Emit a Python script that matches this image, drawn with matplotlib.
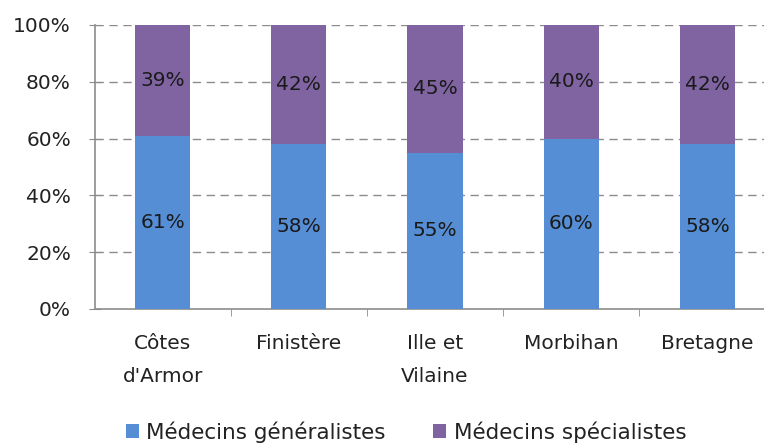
import numpy as np
import matplotlib.pyplot as plt
from matplotlib.ticker import FuncFormatter

plt.rcParams['font.family'] = ['DejaVu Sans']

# Répartition des médecins par département
departements = ["Côtes\nd'Armor", "Finistère", "Ille et\nVilaine", "Morbihan", "Bretagne"]
generalistes = [61, 58, 55, 60, 58]
specialistes = [39, 42, 45, 40, 42]

bleu = '#558ed5'
violet = '#8064a2'
taille = 14.5

fig = plt.figure(figsize=(7.64, 4.46), dpi=100)
ax = fig.add_axes([94.5 / 764, 137 / 446, 681 / 764, 284 / 446])

x = np.arange(len(departements))
largeur = 0.405

# Barres empilées
ax.bar(x, generalistes, width=largeur, color=bleu, label='Médecins généralistes', zorder=3)
ax.bar(x, specialistes, width=largeur, bottom=generalistes, color=violet,
       label='Médecins spécialistes', zorder=3)

# Étiquettes de valeur au centre de chaque segment
for i in range(len(x)):
    ax.text(x[i], generalistes[i] / 2, f'{generalistes[i]}%', ha='center', va='center',
            fontsize=taille, color='#1a1a1a', zorder=4)
    ax.text(x[i], generalistes[i] + specialistes[i] / 2, f'{specialistes[i]}%', ha='center',
            va='center', fontsize=taille, color='#1a1a1a', zorder=4)

ax.set_xlim(-0.5, len(x) - 0.5)
ax.set_ylim(0, 100)
ax.set_yticks(range(0, 101, 20))
ax.yaxis.set_major_formatter(FuncFormatter(lambda v, p: f'{int(v)}%'))

# Grille horizontale en pointillés
for v in range(20, 101, 20):
    ax.axhline(v, color='#8c8c8c', linestyle=(0, (6, 4)), linewidth=1, zorder=1)

ax.set_xticks(x)
ax.set_xticklabels(departements, fontsize=taille, color='#222222', linespacing=1.95)
ax.set_xticks(np.arange(0.5, len(x) - 0.5, 1), minor=True)
ax.tick_params(axis='x', which='major', length=0, pad=18)
ax.tick_params(axis='x', which='minor', length=5, color='#8c8c8c', direction='out')
ax.tick_params(axis='y', labelsize=taille, labelcolor='#222222', length=8, direction='inout',
               color='#8c8c8c', pad=13)

for s in ['top', 'right']:
    ax.spines[s].set_visible(False)
for s in ['left', 'bottom']:
    ax.spines[s].set_color('#8c8c8c')
    ax.spines[s].set_linewidth(1.2)

fig.legend(loc='center', bbox_to_anchor=(406 / 764, 1 - 432 / 446), ncol=2, frameon=False,
           fontsize=15.5, handlelength=0.6, handleheight=0.6, handletextpad=0.35,
           columnspacing=2.2, labelcolor='#222222')

fig.savefig('out.png', dpi=100)
